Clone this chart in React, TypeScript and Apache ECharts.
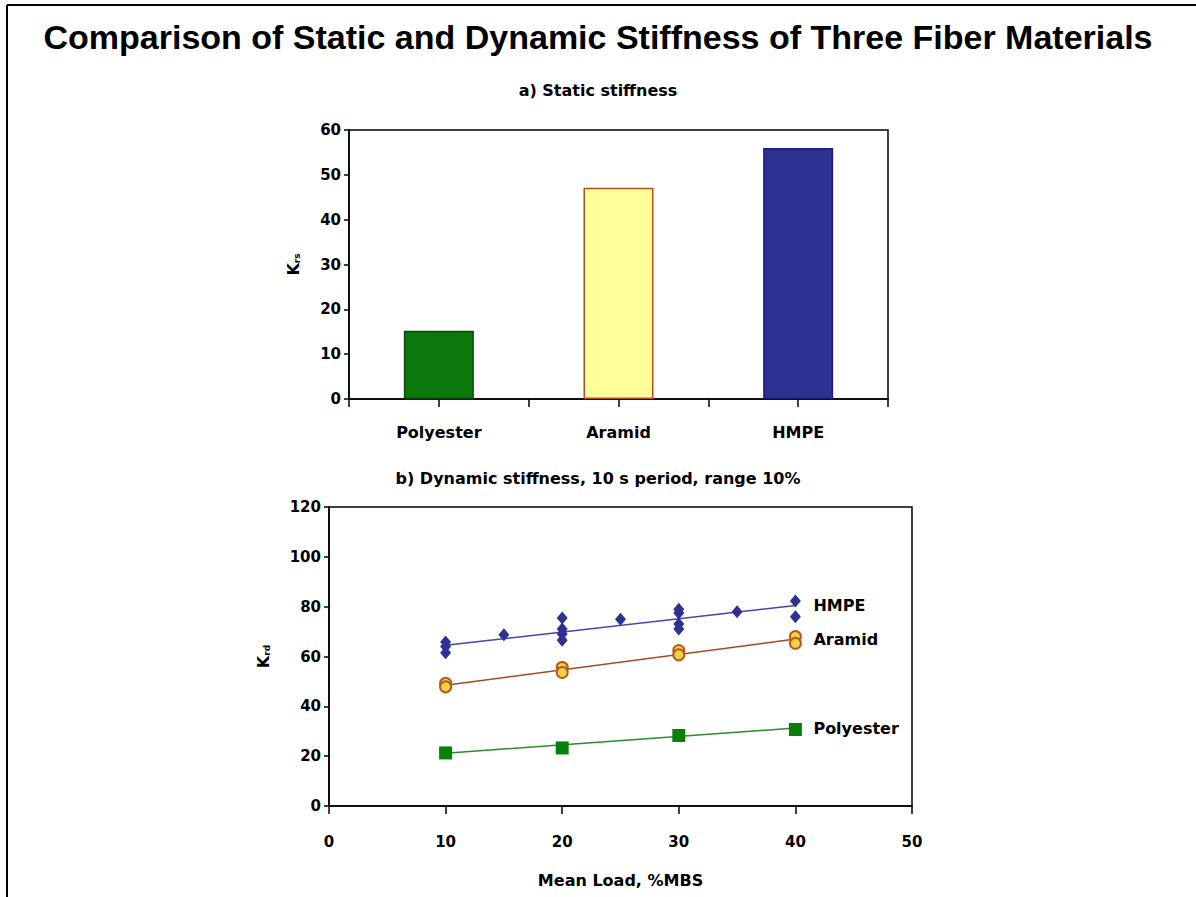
import React, { useEffect, useRef } from "react";
import * as echarts from "echarts";

// ---- Data ----
const mainTitle = "Comparison of Static and Dynamic Stiffness of Three Fiber Materials";
const staticTitle = "a) Static stiffness";
const dynamicTitle = "b) Dynamic stiffness, 10 s period, range 10%";
const dynamicXName = "Mean Load, %MBS";

const staticCategories = ["Polyester", "Aramid", "HMPE"];
const staticValues = [15.2, 47.1, 56.0];
const staticFill = ["#0a780a", "#ffff99", "#2e3192"];
const staticBorder = ["#0a4a0a", "#b0501a", "#1c1c7a"];

const staticYTicks = { min: 0, max: 60, interval: 10 };
const dynamicYTicks = { min: 0, max: 120, interval: 20 };
const dynamicXTicks = { min: 0, max: 50, interval: 10 };

const hmpePoints = [
  [10, 65.8], [10, 64], [10, 61.5],
  [15, 68.7],
  [20, 75.5], [20, 71], [20, 69], [20, 66.5],
  [25, 75],
  [30, 79], [30, 77.5], [30, 73], [30, 71],
  [35, 78],
  [40, 82.3], [40, 76],
];
const aramidPoints = [
  [10, 49.2], [10, 47.8],
  [20, 55.6], [20, 53.6],
  [30, 62.4], [30, 60.7],
  [40, 68], [40, 65.3],
];
const polyesterPoints = [[10, 21.3], [20, 23.3], [30, 28.3], [40, 30.7]];

const hmpeTrend = [[10, 64.5], [40, 80.5]];
const aramidTrend = [[10, 48.5], [40, 67]];
const polyesterTrend = [[10, 21.2], [40, 31.3]];

const TITLE_FONT = "'Liberation Sans', Arial, sans-serif";
const FONT = "'DejaVu Sans', Verdana, sans-serif";

export default function App() {
  const ref = useRef<HTMLDivElement>(null);

  useEffect(() => {
    if (!ref.current) return;
    const chart = echarts.init(ref.current, null, { renderer: "svg" });

    const axisLabelStyle = { color: "#000", fontWeight: "bold", fontSize: 15, fontFamily: FONT };
    const lineStyleBlack = { color: "#000", width: 1.5 };

    const nameRich = {
      k: { fontSize: 16, fontWeight: "bold", fontFamily: FONT, color: "#000" },
      s: { fontSize: 9, fontWeight: "bold", fontFamily: FONT, color: "#000", verticalAlign: "bottom", padding: [7, 0, 0, 0] },
    };

    const trendLine = (name: string, data: number[][], color: string) => ({
      type: "line",
      name: name + " trend",
      xAxisIndex: 2,
      yAxisIndex: 1,
      data,
      symbol: "none",
      lineStyle: { color, width: 1.5 },
      z: 2,
      endLabel: {
        show: true,
        formatter: name,
        distance: 18,
        color: "#000",
        fontWeight: "bold",
        fontSize: 16,
        fontFamily: FONT,
      },
    });

    chart.setOption({
      animation: false,
      backgroundColor: "#fff",
      textStyle: { fontFamily: FONT },
      title: [
        {
          text: mainTitle,
          left: "center",
          top: 15,
          textStyle: { fontSize: 34, fontWeight: "bold", color: "#000", fontFamily: TITLE_FONT },
        },
        {
          text: staticTitle,
          left: "center",
          top: 77,
          textStyle: { fontSize: 16, fontWeight: "bold", color: "#000", fontFamily: FONT },
        },
        {
          text: dynamicTitle,
          left: "center",
          top: 465,
          textStyle: { fontSize: 16, fontWeight: "bold", color: "#000", fontFamily: FONT },
        },
      ],
      graphic: [
        { type: "line", shape: { x1: 7, y1: 5, x2: 1196, y2: 5 }, style: { stroke: "#000", lineWidth: 2 } },
        { type: "line", shape: { x1: 7, y1: 5, x2: 7, y2: 897 }, style: { stroke: "#000", lineWidth: 2 } },
      ],
      grid: [
        { left: 349, top: 130, width: 539, height: 269, show: true, borderColor: "#000", borderWidth: 1.5, backgroundColor: "transparent" },
        { left: 329, top: 507, width: 583, height: 299, show: true, borderColor: "#000", borderWidth: 1.5, backgroundColor: "transparent" },
      ],
      xAxis: [
        {
          type: "category",
          gridIndex: 0,
          position: "bottom",
          data: staticCategories,
          boundaryGap: true,
          axisLine: { lineStyle: lineStyleBlack },
          axisTick: { show: true, length: 8, lineStyle: lineStyleBlack },
          axisLabel: { ...axisLabelStyle, fontSize: 16, margin: 25 },
        },
        {
          type: "category",
          gridIndex: 0,
          position: "bottom",
          data: staticCategories,
          boundaryGap: true,
          axisLine: { show: false },
          axisTick: { show: true, alignWithLabel: true, length: 8, lineStyle: lineStyleBlack },
          axisLabel: { show: false },
        },
        {
          type: "value",
          gridIndex: 1,
          position: "bottom",
          ...dynamicXTicks,
          name: dynamicXName,
          nameLocation: "middle",
          nameGap: 66,
          nameTextStyle: { fontSize: 16, fontWeight: "bold", color: "#000", fontFamily: FONT },
          axisLine: { lineStyle: lineStyleBlack },
          axisTick: { show: true, length: 8, lineStyle: lineStyleBlack },
          axisLabel: { ...axisLabelStyle, margin: 28 },
          splitLine: { show: false },
        },
      ],
      yAxis: [
        {
          type: "value",
          gridIndex: 0,
          ...staticYTicks,
          name: "{k|K}{s|rs}",
          nameLocation: "middle",
          nameRotate: 90,
          nameGap: 48,
          nameTextStyle: { rich: nameRich },
          axisLine: { show: true, lineStyle: lineStyleBlack },
          axisTick: { show: true, length: 5, lineStyle: lineStyleBlack },
          axisLabel: { ...axisLabelStyle, margin: 8 },
          splitLine: { show: false },
        },
        {
          type: "value",
          gridIndex: 1,
          ...dynamicYTicks,
          name: "{k|K}{s|rd}",
          nameLocation: "middle",
          nameRotate: 90,
          nameGap: 58,
          nameTextStyle: { rich: nameRich },
          axisLine: { show: true, lineStyle: lineStyleBlack },
          axisTick: { show: true, length: 5, lineStyle: lineStyleBlack },
          axisLabel: { ...axisLabelStyle, margin: 8 },
          splitLine: { show: false },
        },
      ],
      series: [
        {
          type: "bar",
          name: "Static stiffness",
          xAxisIndex: 0,
          yAxisIndex: 0,
          barWidth: 70,
          data: staticValues.map((v, i) => ({
            value: v,
            itemStyle: { color: staticFill[i], borderColor: staticBorder[i], borderWidth: 1.5 },
          })),
        },
        trendLine("HMPE", hmpeTrend, "#4444b4"),
        trendLine("Aramid", aramidTrend, "#a84a1c"),
        trendLine("Polyester", polyesterTrend, "#2a8c2a"),
        {
          type: "scatter",
          name: "HMPE",
          xAxisIndex: 2,
          yAxisIndex: 1,
          data: hmpePoints,
          symbol: "diamond",
          symbolSize: [11, 13],
          itemStyle: { color: "#2e3192", opacity: 1 },
          z: 3,
        },
        {
          type: "scatter",
          name: "Aramid",
          xAxisIndex: 2,
          yAxisIndex: 1,
          data: aramidPoints,
          symbol: "circle",
          symbolSize: 11,
          itemStyle: { color: "#f2d24a", borderColor: "#b85a16", borderWidth: 2, opacity: 1 },
          z: 3,
        },
        {
          type: "scatter",
          name: "Polyester",
          xAxisIndex: 2,
          yAxisIndex: 1,
          data: polyesterPoints,
          symbol: "rect",
          symbolSize: 13,
          itemStyle: { color: "#0a800a", opacity: 1 },
          z: 3,
        },
      ],
    });

    return () => chart.dispose();
  }, []);

  return (
    <div
      ref={ref}
      style={{ position: "absolute", left: 0, top: 0, width: 1196, height: 897 }}
    />
  );
}
